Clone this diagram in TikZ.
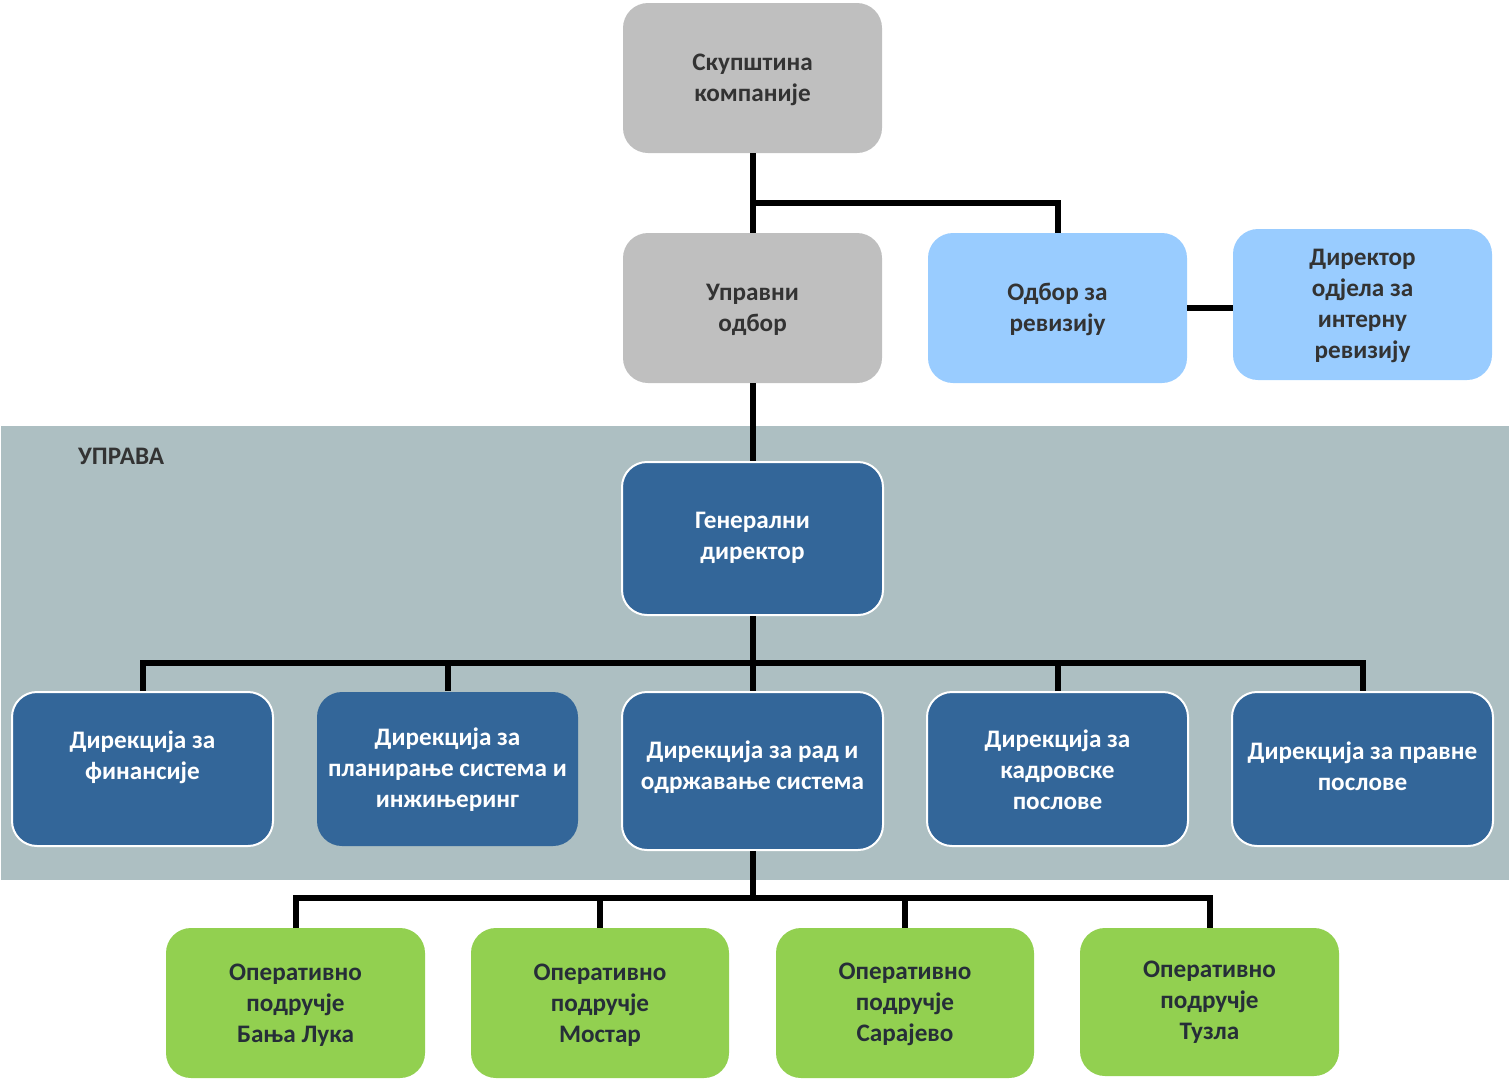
\documentclass[tikz,border=0pt]{standalone}
\usepackage{fontspec}
\setmainfont{Carlito}
\usetikzlibrary{calc}
\definecolor{grayb}{HTML}{BFBFBF}
\definecolor{lblue}{HTML}{99CCFF}
\definecolor{dblue}{HTML}{336699}
\definecolor{gbox}{HTML}{92D050}
\definecolor{band}{HTML}{ADBFC2}
\definecolor{txtc}{HTML}{333333}
\definecolor{txtg}{HTML}{262E38}
\begin{document}
\begin{tikzpicture}[x=1pt,y=-1pt,
  box/.style={rectangle, rounded corners=25pt, inner sep=0pt, minimum width=259pt, minimum height=150pt},
  graybox/.style={box, fill=grayb},
  lbbox/.style={box, fill=lblue},
  dbbox/.style={box, fill=dblue, draw=white, line width=2pt, minimum width=261pt, minimum height=153pt},
  grbox/.style={box, fill=gbox},
  lbl/.style={align=center, inner sep=0pt, yshift=-2pt, font=\bfseries\fontsize{25.2}{31}\selectfont, text=txtc},
  wlbl/.style={lbl, text=white},
  glbl/.style={lbl, text=txtg},
  conn/.style={line width=6pt, black}]
\useasboundingbox (0,0) rectangle (1509,1082);
\fill[band] (1,426) rectangle (1509,880);
\node[lbl, anchor=west] (uprava) at (78,454) {УПРАВА};

% boxes
\node[graybox] (sk) at (752.5,78) {};
\node[graybox] (up) at (752.5,308) {};
\node[lbbox] (od) at (1057.5,308) {};
\node[lbbox, minimum height=151pt] (dir) at (1362.5,304.5) {};
\node[dbbox] (gen) at (752.5,538.5) {};
\node[dbbox, minimum height=154pt] (fin) at (142.5,769) {};
\node[dbbox, minimum height=154pt, draw=none] (plan) at (447.5,769) {};
\node[dbbox, minimum height=158pt] (rad) at (752.5,771) {};
\node[dbbox, minimum height=154pt] (kad) at (1057.5,769) {};
\node[dbbox, minimum height=154pt] (pra) at (1362.5,769) {};
\node[grbox] (g1) at (295.5,1003) {};
\node[grbox, minimum width=258pt] (g2) at (600,1003) {};
\node[grbox, minimum width=258pt] (g3) at (905,1003) {};
\node[grbox, minimum height=148pt] (g4) at (1209.5,1002) {};

% labels
\node[lbl] (sk-t) at (752.5,77.5) {Скупштина\\компаније};
\node[lbl] (up-t) at (752.5,307.5) {Управни\\одбор};
\node[lbl] (od-t) at (1057.5,307.5) {Одбор за\\ревизију};
\node[lbl] (dir-t) at (1362.5,303.5) {Директор\\одјела за\\интерну\\ревизију};
\node[wlbl] (gen-t) at (752.5,535.5) {Генерални\\директор};
\node[wlbl] (fin-t) at (142.5,755) {Дирекција за\\финансије};
\node[wlbl] (plan-t) at (447.5,768) {Дирекција за\\планирање система и\\инжињеринг};
\node[wlbl] (rad-t) at (752.5,765.5) {Дирекција за рад и\\одржавање система};
\node[wlbl] (kad-t) at (1057.5,767.5) {Дирекција за\\кадровске\\послове};
\node[wlbl] (pra-t) at (1362.5,764.5) {Дирекција за правне\\послове};
\node[glbl] (g1-t) at (295.5,1003) {Оперативно\\подручје\\Бања Лука};
\node[glbl] (g2-t) at (600,1003.5) {Оперативно\\подручје\\Мостар};
\node[glbl] (g3-t) at (905,1002) {Оперативно\\подручје\\Сарајево};
\node[glbl] (g4-t) at (1209.5,1000.5) {Оперативно\\подручје\\Тузла};

% connectors
\coordinate (j1) at (752.5,203);
\coordinate (j2) at (752.5,663);
\coordinate (j3) at (752.5,898);
\draw[conn] (sk.south) -- (up.north);
\draw[conn] (j1) -| (od.north);
\draw[conn] (od.east) -- (dir.west |- od.east);
\draw[conn] (up.south) -- (gen.north);
\draw[conn] (gen.south) -- (rad.north);
\draw[conn] (fin.north) |- (j2) -| (pra.north);
\draw[conn] (plan.north) -- (plan.north |- j2);
\draw[conn] (kad.north) -- (kad.north |- j2);
\draw[conn] (rad.south) -- (j3);
\draw[conn] (g1.north) |- (j3) -| (g4.north);
\draw[conn] (g2.north) -- (g2.north |- j3);
\draw[conn] (g3.north) -- (g3.north |- j3);
\end{tikzpicture}
\end{document}
